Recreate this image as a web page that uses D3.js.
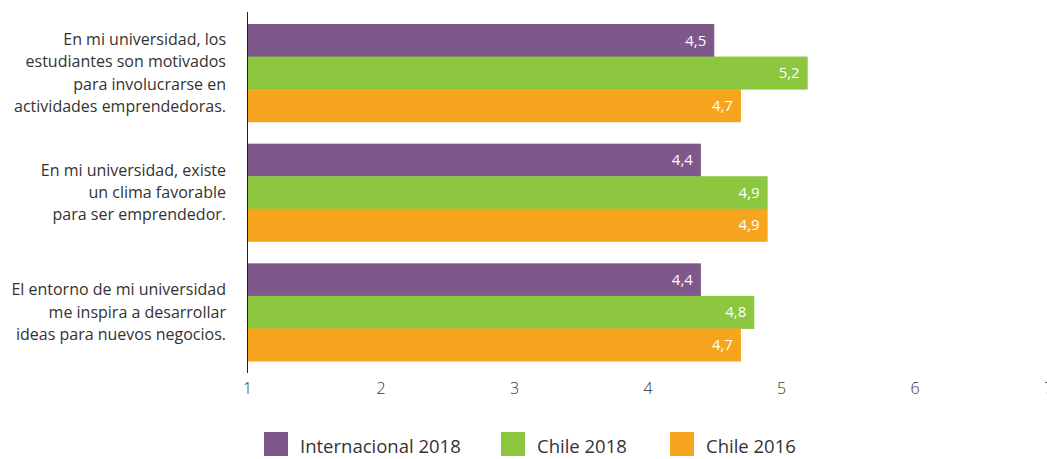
<!DOCTYPE html>
<html><head><meta charset="utf-8">
<script src="https://cdn.jsdelivr.net/npm/d3@7"></script>
<style>body{margin:0;background:#fff}svg{display:block}</style>
</head><body>
<svg id="c" width="1047" height="459"></svg>
<script>
const categories = [
  ["En mi universidad, los","estudiantes son motivados","para involucrarse en","actividades emprendedoras."],
  ["En mi universidad, existe","un clima favorable","para ser emprendedor."],
  ["El entorno de mi universidad","me inspira a desarrollar","ideas para nuevos negocios."]
];
const seriesNames = ["Internacional 2018","Chile 2018","Chile 2016"];
const internacional2018 = [4.5, 4.4, 4.4];
const chile2018 = [5.2, 4.9, 4.8];
const chile2016 = [4.7, 4.9, 4.7];
const tickValues = [1,2,3,4,5,6,7];
const colors = ["#7e588b","#8dc63f","#f7a51e"];
const seriesValues = [internacional2018, chile2018, chile2016];

const svg = d3.select("#c");
const font = "'Open Sans', sans-serif";
const x = d3.scaleLinear().domain([1,7]).range([247,1048]);
const y = d3.scaleBand().domain(d3.range(categories.length)).range([13,372]).paddingInner(0.184).paddingOuter(0.092);
const ys = d3.scaleBand().domain(d3.range(seriesNames.length)).range([0,y.bandwidth()]);

const g = svg.append("g");
categories.forEach((cat,i)=>{
  const gg = g.append("g").attr("transform",`translate(0,${y(i)})`);
  seriesNames.forEach((s,j)=>{
    const v = seriesValues[j][i];
    gg.append("rect").attr("x",x(1)).attr("y",ys(j)).attr("width",x(v)-x(1)).attr("height",ys.bandwidth()+0.5).attr("fill",colors[j]);
    gg.append("text").attr("x",x(v)-8).attr("y",ys(j)+ys.bandwidth()/2).attr("dy","0.35em")
      .attr("text-anchor","end").attr("fill","#fff").style("font-family",font).style("font-size","15px")
      .text(String(v).replace(".",","));
  });
  const lh = 22.3;
  const cy = y(i)+y.bandwidth()/2;
  const t = g.append("text").attr("text-anchor","end").attr("fill","#333").style("font-family",font).style("font-size","16px");
  cat.forEach((line,k)=>{
    t.append("tspan").attr("x",226).attr("y",cy+(k-(cat.length-1)/2)*lh).attr("dy","0.35em").text(line);
  });
});

svg.append("line").attr("x1",247.5).attr("x2",247.5).attr("y1",12).attr("y2",373).attr("stroke","#222").attr("stroke-width",1);

const ax = svg.append("g").attr("transform","translate(0,373)")
  .call(d3.axisBottom(x).tickValues(tickValues).tickSize(0).tickPadding(10).tickFormat(d=>d));
ax.select(".domain").remove();
ax.selectAll("text").attr("fill","#333").style("font-family",font).style("font-size","16px").style("font-weight","300");

const legX = [264,501,670];
seriesNames.forEach((s,j)=>{
  svg.append("rect").attr("x",legX[j]).attr("y",432).attr("width",24).attr("height",24).attr("fill",colors[j]);
  svg.append("text").attr("x",legX[j]+36).attr("y",447).attr("dy","0.35em").attr("fill","#333")
    .style("font-family",font).style("font-size","18.5px").text(s);
});
</script>
</body></html>
